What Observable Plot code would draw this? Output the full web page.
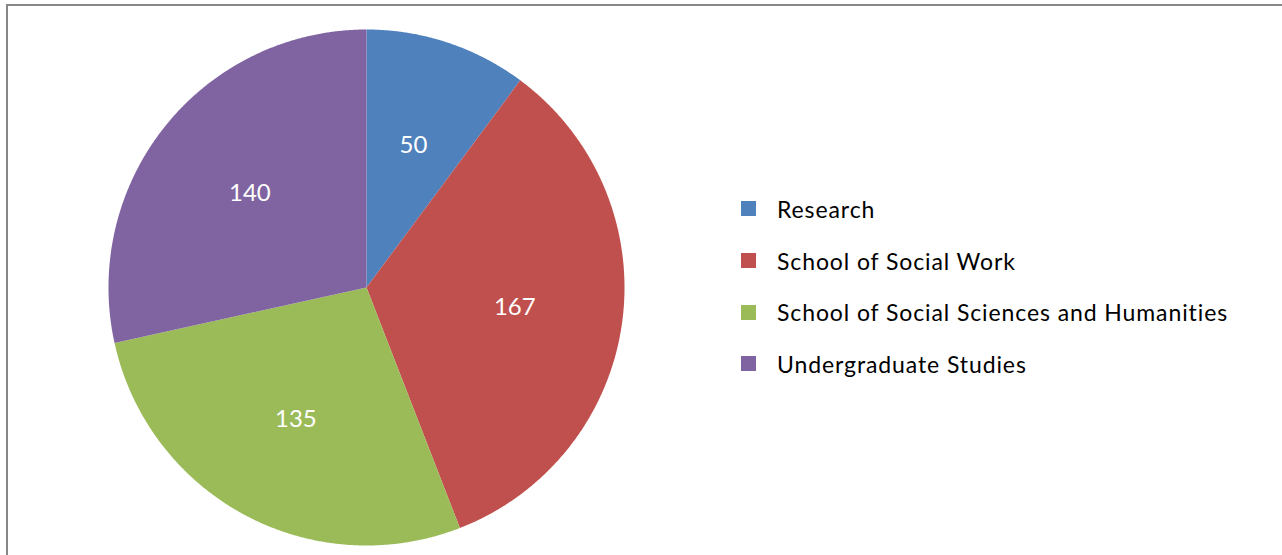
<!DOCTYPE html>
<html>
<head>
<meta charset="utf-8">
<script src="https://cdn.jsdelivr.net/npm/d3@7"></script>
<script src="https://cdn.jsdelivr.net/npm/@observablehq/plot@0.6"></script>
<style>
  html, body { margin: 0; padding: 0; background: #fff; }
  #wrap { position: relative; width: 1282px; height: 555px; overflow: hidden; }
  #frame { position: absolute; left: 6px; top: 4px; width: 1400px; height: 700px;
           border-left: 2px solid #878787; border-top: 2px solid #878787; }
  #chart { position: absolute; left: 0; top: 0; }
  #legend { position: absolute; left: 741px; top: 183px; }
  #legend div { font-family: Lato, "Liberation Sans", sans-serif !important; font-size: 23px !important;
                color: #000 !important; letter-spacing: 0.9px; }
  #legend div[class$="-swatch"] { height: 51.7px; padding: 0 !important; display: flex; align-items: center; }
  #legend div[class$="-swatch"] svg { margin-right: 21px !important; }
</style>
</head>
<body>
<div id="wrap">
  <div id="chart"></div>
  <div id="frame"></div>
  <div id="legend"></div>
</div>
<script>
const categories = ["Research", "School of Social Work", "School of Social Sciences and Humanities", "Undergraduate Studies"];
const values = [50, 167, 135, 140];
const colors = ["#4F81BD", "#C0504D", "#9BBB59", "#8064A2"];

const rows = categories.map((name, i) => ({name, value: values[i]}));
const arcs = d3.pie().sort(null).value(d => d.value)(rows);

// polygon outlines of each slice in unit-circle data space (angle 0 at 12 o'clock, clockwise)
const pts = [];
for (const a of arcs) {
  const n = Math.max(2, Math.ceil((a.endAngle - a.startAngle) / 0.005));
  pts.push({name: a.data.name, x: 0, y: 0});
  for (let k = 0; k <= n; k++) {
    const t = a.startAngle + (a.endAngle - a.startAngle) * k / n;
    pts.push({name: a.data.name, x: Math.sin(t), y: Math.cos(t)});
  }
  pts.push({name: a.data.name, x: 0, y: 0});
}
const labelR = 0.58;
const labels = arcs.map(a => {
  const m = (a.startAngle + a.endAngle) / 2;
  return {name: a.data.name, value: a.data.value, x: labelR * Math.sin(m), y: labelR * Math.cos(m)};
});

// layout: pie centre at (366, 287) px, radius 258 px
const W = 1282, H = 555, cx = 366, cy = 287, R = 258;
const chart = Plot.plot({
  width: W, height: H, margin: 0,
  x: {domain: [-cx / R, (W - cx) / R], axis: null},
  y: {domain: [-(H - cy) / R, cy / R], axis: null},
  color: {domain: categories, range: colors},
  style: {background: "transparent"},
  marks: [
    Plot.line(pts, {x: "x", y: "y", z: "name", fill: "name", stroke: null, curve: "linear"}),
    Plot.text(labels, {x: "x", y: "y", text: d => String(d.value), fill: "white", fontSize: 24,
      fontFamily: "Lato, 'Liberation Sans', sans-serif"})
  ]
});
document.getElementById("chart").appendChild(chart);

const legend = Plot.legend({
  color: {domain: categories, range: colors},
  legend: "swatches", columns: 1, swatchSize: 15, className: "lg"
});
document.getElementById("legend").appendChild(legend);
</script>
</body>
</html>
